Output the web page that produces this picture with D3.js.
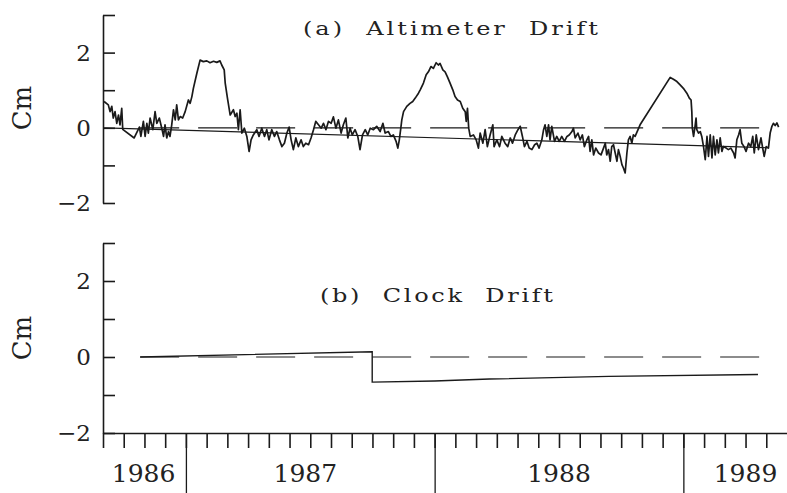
<!DOCTYPE html>
<html><head><meta charset="utf-8">
<script src="https://cdn.jsdelivr.net/npm/d3@7"></script>
<style>
html,body{margin:0;padding:0;background:#fff;}
svg{display:block;}
text{font-family:"DejaVu Serif","Liberation Serif",serif;fill:#222;}
</style></head><body>
<svg id="c" width="787" height="493"></svg>
<script>
// ---- data (decimal year, cm) ----
const altimeterYear = [
1986.671,1986.688,1986.695,1986.702,1986.708,1986.715,1986.722,1986.729,1986.735,1986.742,1986.746,1986.792,
1986.813,1986.819,1986.829,1986.836,1986.843,1986.849,1986.856,1986.867,1986.876,1986.883,1986.893,1986.903,
1986.910,1986.916,1986.923,1986.930,1986.936,1986.943,1986.950,1986.957,1986.963,1986.970,1986.977,1986.987,
1986.997,1987.010,1987.017,1987.024,1987.030,1987.044,1987.057,1987.070,1987.084,1987.097,1987.111,1987.124,
1987.137,1987.144,1987.154,1987.158,1987.167,1987.178,1987.191,1987.198,1987.205,
1987.211,1987.218,1987.225,1987.235,1987.245,1987.254,1987.262,1987.271,1987.285,1987.294,1987.305,1987.316,
1987.325,1987.334,1987.345,1987.356,1987.365,1987.376,1987.386,1987.396,1987.406,1987.415,1987.423,1987.432,
1987.442,1987.452,1987.463,1987.472,1987.482,1987.493,1987.503,1987.513,1987.522,1987.533,1987.544,1987.553,
1987.563,1987.573,1987.584,1987.593,1987.603,1987.613,1987.624,1987.633,1987.643,1987.651,1987.660,1987.669,
1987.680,1987.691,1987.700,1987.710,1987.721,1987.731,1987.741,
1987.754,1987.767,1987.781,1987.792,1987.801,1987.814,1987.824,1987.834,1987.845,1987.852,1987.858,1987.864,
1987.868,1987.875,1987.888,1987.901,1987.912,1987.922,1987.935,1987.942,1987.955,1987.966,1987.975,1987.985,
1987.995,1988.006,1988.015,1988.022,1988.033,1988.042,1988.051,1988.062,1988.073,1988.082,1988.092,1988.103,
1988.113,1988.123,1988.127,1988.132,1988.137,1988.143,1988.156,1988.167,1988.176,1988.183,1988.194,1988.203,
1988.212,1988.223,1988.234,1988.239,1988.250,1988.261,1988.270,1988.283,
1988.294,1988.304,1988.313,1988.324,1988.335,1988.344,1988.353,1988.361,1988.371,1988.380,1988.391,1988.402,
1988.411,1988.420,1988.431,1988.438,1988.444,1988.451,1988.458,1988.464,1988.471,1988.482,1988.491,1988.501,
1988.511,1988.522,1988.532,1988.541,1988.552,1988.558,1988.565,1988.576,1988.585,1988.594,1988.602,1988.612,
1988.619,1988.625,1988.632,1988.639,1988.648,1988.659,1988.669,1988.679,1988.686,1988.692,1988.699,1988.706,
1988.712,1988.719,1988.726,1988.733,1988.739,1988.746,1988.753,1988.759,1988.766,1988.773,1988.779,1988.786,
1988.793,1988.799,1988.806,1988.826,
1988.947,1988.960,1988.974,1988.987,1989.000,1989.014,1989.024,1989.031,1989.034,1989.036,1989.041,1989.047,
1989.051,1989.054,1989.061,1989.068,1989.074,1989.081,1989.088,1989.095,1989.101,1989.108,1989.115,1989.121,
1989.128,1989.135,1989.141,1989.148,1989.155,1989.161,1989.172,1989.181,1989.191,1989.202,1989.208,1989.215,
1989.222,1989.228,1989.235,1989.244,1989.252,1989.262,1989.271,1989.279,1989.285,1989.293,1989.302,1989.312,
1989.320,1989.325,1989.333,1989.342,1989.349,1989.356,1989.362,1989.369,1989.376,1989.383
];
const altimeterCm = [
0.70,0.61,0.43,0.57,0.26,0.43,0.12,0.34,0.08,0.52,-0.04,-0.27,
0.02,-0.23,0.17,-0.23,0.12,-0.14,0.26,-0.05,0.43,0.12,0.26,-0.01,
-0.23,0.08,-0.27,-0.10,-0.23,0.08,0.48,0.21,0.61,0.21,0.30,0.26,
0.43,0.74,0.65,0.83,1.05,1.45,1.80,1.76,1.78,1.73,1.77,1.74,
1.78,1.67,1.54,1.19,0.79,0.34,0.48,0.30,0.39,
-0.05,0.48,-0.14,-0.01,-0.23,-0.63,-0.32,-0.19,-0.05,-0.23,-0.01,-0.23,
-0.05,-0.32,-0.05,-0.23,-0.10,-0.32,-0.50,-0.41,-0.14,0.02,-0.32,-0.58,
-0.27,-0.50,-0.32,-0.50,-0.41,-0.45,-0.27,-0.05,0.17,0.08,-0.01,0.12,
-0.05,0.17,0.12,0.29,-0.01,0.21,-0.14,0.08,0.26,-0.27,-0.01,-0.19,
-0.05,-0.23,-0.58,-0.19,-0.05,-0.19,-0.01,
-0.05,0.04,-0.10,0.12,-0.14,-0.10,-0.23,-0.19,-0.36,-0.54,-0.32,-0.01,
0.21,0.43,0.57,0.65,0.70,0.79,0.92,1.01,1.19,1.41,1.49,1.63,
1.58,1.73,1.67,1.71,1.54,1.49,1.36,1.19,1.01,0.83,0.74,0.70,
0.52,0.43,0.17,0.52,-0.01,-0.23,-0.19,-0.32,-0.54,-0.14,-0.41,-0.05,
-0.50,-0.19,0.08,-0.50,-0.32,-0.50,-0.23,-0.41,
-0.50,-0.27,-0.41,-0.19,-0.05,0.04,-0.23,-0.50,-0.36,-0.54,-0.58,-0.45,
-0.41,-0.54,-0.32,-0.05,0.08,-0.23,0.08,-0.32,0.04,-0.36,-0.23,-0.36,
-0.23,-0.36,-0.23,-0.19,-0.10,-0.01,-0.27,-0.14,-0.32,-0.19,-0.50,-0.32,
-0.23,-0.63,-0.32,-0.72,-0.54,-0.67,-0.72,-0.54,-0.41,-0.72,-0.58,-0.89,
-0.50,-0.45,-0.67,-0.89,-0.58,-0.76,-0.98,-1.07,-1.20,-0.67,-0.32,-0.23,
-0.41,-0.19,-0.23,0.08,
1.34,1.29,1.23,1.14,1.05,0.92,0.79,0.74,0.43,-0.01,-0.23,0.04,
0.26,-0.05,-0.14,-0.10,-0.23,-0.50,-0.85,-0.23,-0.76,-0.19,-0.80,-0.23,
-0.72,-0.32,-0.67,-0.27,-0.63,-0.50,-0.54,-0.58,-0.54,-0.67,-0.80,-0.32,
-0.19,-0.05,-0.41,-0.50,-0.63,-0.41,-0.50,-0.23,-0.67,-0.19,-0.58,-0.27,
-0.58,-0.76,-0.50,-0.54,-0.14,0.04,0.12,0.06,0.13,0.02
];
const altTrendYear = [1986.671, 1989.342];
const altTrendCm   = [0.00, -0.53];
const zeroRefYear  = [1986.816, 1989.313];
const zeroRefCm    = [0, 0];
const clockYear = [1986.816, 1987.749, 1987.749, 1988.00, 1988.22, 1988.70, 1989.30];
const clockCm   = [0.00, 0.14, -0.66, -0.63, -0.58, -0.51, -0.46];
const yTickValues = [-2, -1, 0, 1, 2, 3];
const yTickLabels = [-2, 0, 2];
const yearLabels  = ["1986", "1987", "1988", "1989"];
const yearLabelAt = [1986.83, 1987.48, 1988.50, 1989.25];
const yearBoundaries = [1987, 1988, 1989];
const panelTitles = ["(a)  Altimeter  Drift", "(b)  Clock  Drift"];
const yLabel = "Cm";

// ---- drawing ----
const svg = d3.select("#c");
const x = d3.scaleLinear().domain([1986 + 8/12, 1989 + 5/12]).range([103, 787]);
const yTop = d3.scaleLinear().domain([-2, 3]).range([203, 15]);
const yBot = d3.scaleLinear().domain([-2, 3]).range([433, 243]);
const ink = "#1a1a1a";
const titleScaleX = 1.3;

function pairs(a, b) { return a.map((d, i) => [d, b[i]]); }

function panel(y, titleIdx, titleX, titleY, titleLen, labelY) {
  const g = svg.append("g");
  const ax = g.append("g").attr("transform", "translate(103,0)")
    .call(d3.axisRight(y).tickValues(yTickValues).tickSize(12).tickSizeOuter(0).tickFormat(""));
  ax.selectAll("path,line").attr("stroke", ink).attr("stroke-width", 1.6);
  g.selectAll("text.ytl").data(yTickLabels).enter().append("text")
    .attr("class", "ytl")
    .attr("x", 91).attr("y", d => y(d)).attr("dy", "0.36em")
    .attr("text-anchor", "end").attr("font-size", 23)
    .text(d => d < 0 ? "\u2212" + Math.abs(d) : String(d));
  g.append("text")
    .attr("transform", `translate(31,${labelY}) rotate(-90)`)
    .attr("text-anchor", "middle").attr("font-size", 26).text(yLabel);
  g.append("g").attr("transform", `translate(${titleX},${titleY}) scale(${titleScaleX},1)`)
    .append("text")
    .attr("x", 0).attr("y", 0).attr("font-size", 18.5)
    .attr("textLength", titleLen / titleScaleX).attr("lengthAdjust", "spacing")
    .style("white-space", "pre").text(panelTitles[titleIdx]);
  return g;
}

const gA = panel(yTop, 0, 303, 35, 295, 108);
const gB = panel(yBot, 1, 320, 302, 233, 338);

const lineA = d3.line().x(d => x(d[0])).y(d => yTop(d[1]));
const lineB = d3.line().x(d => x(d[0])).y(d => yBot(d[1]));

// panel (a)
gA.append("path").datum(pairs(zeroRefYear, zeroRefCm)).attr("d", lineA)
  .attr("fill", "none").attr("stroke", ink).attr("stroke-width", 1.2).attr("stroke-dasharray", "39,19");
gA.append("path").datum(pairs(altTrendYear, altTrendCm)).attr("d", lineA)
  .attr("fill", "none").attr("stroke", ink).attr("stroke-width", 1.2);
gA.append("path").datum(pairs(altimeterYear, altimeterCm)).attr("d", lineA)
  .attr("fill", "none").attr("stroke", ink).attr("stroke-width", 1.7).attr("stroke-linejoin", "round");

// panel (b)
gB.append("path").datum(pairs(zeroRefYear, zeroRefCm)).attr("d", lineB)
  .attr("fill", "none").attr("stroke", ink).attr("stroke-width", 1.2).attr("stroke-dasharray", "39,19");
gB.append("path").datum(pairs(clockYear, clockCm)).attr("d", lineB)
  .attr("fill", "none").attr("stroke", ink).attr("stroke-width", 1.4);

// bottom time axis
const months = d3.range(0, 33).map(i => 1986 + 8/12 + i/12);
const bx = svg.append("g").attr("transform", "translate(0,433)")
  .call(d3.axisBottom(x).tickValues(months).tickSize(15).tickSizeOuter(0).tickFormat(""));
bx.selectAll("path,line").attr("stroke", ink).attr("stroke-width", 1.6);
const by = svg.append("g").attr("transform", "translate(0,433)")
  .call(d3.axisBottom(x).tickValues(yearBoundaries).tickSize(62).tickSizeOuter(0).tickFormat(""));
by.select(".domain").remove();
by.selectAll("line").attr("stroke", ink).attr("stroke-width", 1.3);

svg.selectAll("text.year").data(yearLabels).enter().append("text")
  .attr("class", "year")
  .attr("x", (d, i) => x(yearLabelAt[i])).attr("y", 482)
  .attr("text-anchor", "middle").attr("font-size", 25).text(d => d);
</script>
</body></html>
